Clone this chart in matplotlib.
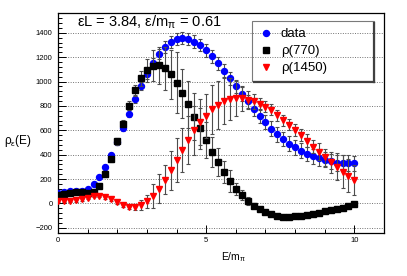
import matplotlib
matplotlib.use("Agg")
import matplotlib.pyplot as plt
from matplotlib.lines import Line2D
from matplotlib.ticker import MultipleLocator
from matplotlib.transforms import IdentityTransform

plt.rcParams['font.family'] = ['Liberation Sans', 'DejaVu Sans']
plt.rcParams['mathtext.fontset'] = 'custom'
plt.rcParams['mathtext.rm'] = 'Liberation Sans'
plt.rcParams['mathtext.it'] = 'Liberation Sans'

# -----------------------------
# DATA
# -----------------------------
energy = [0.0, 0.2, 0.4, 0.6, 0.8, 1.0, 1.2, 1.4, 1.6, 1.8,
          2.0, 2.2, 2.4, 2.6, 2.8, 3.0, 3.2, 3.4, 3.6, 3.8,
          4.0, 4.2, 4.4, 4.6, 4.8, 5.0, 5.2, 5.4, 5.6, 5.8,
          6.0, 6.2, 6.4, 6.6, 6.8, 7.0, 7.2, 7.4, 7.6, 7.8,
          8.0, 8.2, 8.4, 8.6, 8.8, 9.0, 9.2, 9.4, 9.6, 9.8, 10.0]

data = [89, 97, 100, 103, 106, 120, 158, 214, 295, 395,
        505, 617, 735, 855, 963, 1063, 1151, 1226, 1283, 1324,
        1348, 1357, 1349, 1328, 1298, 1255, 1206, 1150, 1090, 1026,
        960, 898, 837, 775, 717, 667, 613, 567, 528, 490,
        459, 434, 407, 387, 370, 358, 345, 335, 333, 332, 328]
data_err = [12, 12, 12, 12, 12, 12, 14, 16, 18, 20,
            22, 25, 28, 32, 35, 38, 42, 45, 48, 50,
            50, 50, 50, 50, 50, 52, 52, 55, 55, 55,
            55, 55, 55, 58, 58, 58, 60, 60, 60, 60,
            60, 60, 60, 62, 62, 62, 64, 65, 65, 65, 65]

rho770 = [67, 78, 89, 92, 92, 83, 97, 147, 239, 367,
          509, 655, 801, 928, 1026, 1094, 1131, 1134, 1108, 1058,
          991, 904, 812, 713, 617, 520, 424, 338, 255, 183,
          121, 67, 21, -18, -47, -72, -89, -102, -108, -108,
          -105, -100, -94, -86, -78, -66, -55, -47, -36, -25, -8]
rho770_err = [12, 12, 12, 12, 12, 12, 14, 16, 20, 25,
              28, 32, 38, 45, 60, 95, 130, 150, 175, 200,
              250, 200, 190, 190, 170, 150, 125, 115, 90, 90,
              50, 40, 30, 22, 18, 15, 12, 12, 12, 12,
              12, 12, 12, 12, 12, 12, 12, 12, 12, 12, 15]

rho1450 = [22, 19, 22, 25, 33, 47, 61, 61, 50, 33,
           8, -17, -33, -33, -11, 17, 61, 122, 195, 273,
           355, 435, 521, 600, 670, 717, 771, 807, 840, 856,
           863, 862, 851, 837, 817, 793, 770, 723, 684, 645,
           604, 559, 514, 467, 423, 379, 337, 301, 260, 227, 191]
rho1450_err = [10, 10, 10, 10, 10, 10, 10, 10, 10, 10,
               10, 10, 10, 20, 40, 55, 95, 118, 120, 160,
               180, 180, 200, 200, 190, 180, 200, 200, 190, 170,
               145, 100, 75, 60, 50, 45, 45, 45, 45, 45,
               50, 50, 55, 55, 70, 70, 85, 110, 135, 135, 125]

title = "εL = 3.84, ε/m$_{\\mathrm{π}}$ = 0.61"

# -----------------------------
# FIGURE
# -----------------------------
fig = plt.figure(figsize=(4.07, 2.76), dpi=100)
ax = fig.add_axes([0.1425, 0.157, 0.801, 0.797])

ax.yaxis.grid(True, linestyle=(0, (1, 1.5)), color='0.45', linewidth=0.7)
ax.set_axisbelow(True)

bar_kw = dict(ecolor='0.3', elinewidth=0.8, capsize=1.2, capthick=0.8, linestyle='none')
ax.errorbar(energy, data, yerr=data_err, marker='o', ms=4.3, color='blue', zorder=3, **bar_kw)
ax.errorbar(energy, rho770, yerr=rho770_err, marker='s', ms=4.0, color='black', zorder=4, **bar_kw)
ax.errorbar(energy, rho1450, yerr=rho1450_err, marker='v', ms=4.0, color='red', zorder=5, **bar_kw)

ax.set_xlim(0, 11)
ax.set_ylim(-240, 1565)
ax.xaxis.set_major_locator(MultipleLocator(5))
ax.xaxis.set_minor_locator(MultipleLocator(1))
ax.yaxis.set_major_locator(MultipleLocator(200))
ax.yaxis.set_minor_locator(MultipleLocator(40))
ax.tick_params(which='both', direction='in', top=False, right=False, labelsize=5.5, width=0.7)
ax.tick_params(which='major', length=5.8)
ax.tick_params(which='minor', length=2.9)
ax.tick_params(axis='y', pad=4)
ax.tick_params(axis='x', pad=3)
for s in ax.spines.values():
    s.set_linewidth(0.9)

ax.text(0.058, 0.935, title, transform=ax.transAxes, fontsize=10.5, va='baseline', ha='left')

fig.text(234 / 407, 1 - 257 / 276, "E/m$_{\\mathrm{π}}$", fontsize=7.5, ha='center', va='center')
fig.text(4 / 407, 1 - 141 / 276, "ρ$_{\\mathrm{ε}}$(E)", fontsize=8.5, ha='left', va='center')

# -----------------------------
# LEGEND
# -----------------------------
handles = [
    Line2D([], [], marker='o', ms=4.3, color='blue', linestyle='none'),
    Line2D([], [], marker='s', ms=4.0, color='black', linestyle='none'),
    Line2D([], [], marker='v', ms=4.0, color='red', linestyle='none'),
]
labels = ["data", "ρ(770)", "ρ(1450)"]
leg = ax.legend(handles, labels, loc='upper left',
                bbox_to_anchor=(252 / 407, 1 - 76 / 276, 122 / 407, 55 / 276),
                bbox_transform=fig.transFigure, mode='expand', borderaxespad=0,
                fontsize=9.5, frameon=True, fancybox=False, facecolor='none',
                edgecolor='0.35', borderpad=0.55, handlelength=1.0,
                handletextpad=0.64, labelspacing=0.35)
leg.get_frame().set_linewidth(0.8)

fig.canvas.draw()
bb = leg.get_window_extent()
for xs, ys in [([bb.x1, bb.x1], [bb.y0 - 1, bb.y1 - 2]),
               ([bb.x0 + 2, bb.x1], [bb.y0 - 1, bb.y0 - 1])]:
    fig.add_artist(Line2D(xs, ys, transform=IdentityTransform(), color='0.25', linewidth=1.6))

fig.savefig("out.png", dpi=100)
